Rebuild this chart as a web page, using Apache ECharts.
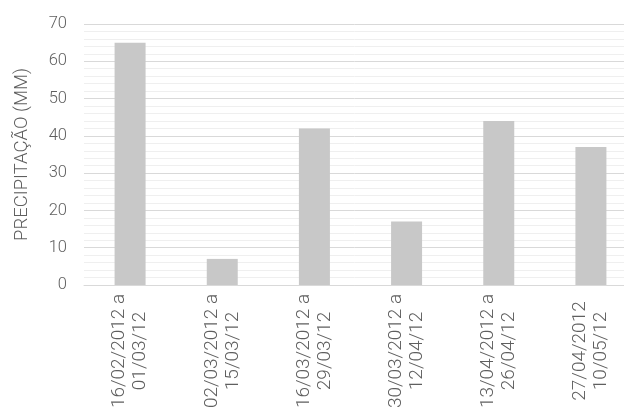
<!DOCTYPE html>
<html>
<head>
<meta charset="utf-8">
<script src="https://cdn.jsdelivr.net/npm/echarts@6/dist/echarts.min.js"></script>
<style>
  html, body { margin: 0; padding: 0; background: #ffffff; }
  #chart { width: 624px; height: 410px; }
</style>
</head>
<body>
<div id="chart"></div>
<script>
// Fortnightly rainfall totals
const periods = [
  '16/02/2012 a\n01/03/12',
  '02/03/2012 a\n15/03/12',
  '16/03/2012 a\n29/03/12',
  '30/03/2012 a\n12/04/12',
  '13/04/2012 a\n26/04/12',
  '27/04/2012\n10/05/12'
];
const rainfall = [65, 7, 42, 17, 44, 37];
const yTicks = [0, 10, 20, 30, 40, 50, 60, 70];
const yTitle = 'PRECIPITAÇÃO (MM)';

const textColor = '#5f5f5f';
const fontFamily = 'Roboto, "Liberation Sans", Arial, sans-serif';
const fontWeight = 300;

const chart = echarts.init(document.getElementById('chart'), null, { renderer: 'canvas' });
chart.setOption({
  animation: false,
  backgroundColor: '#ffffff',
  // plot area runs past the right edge of the canvas
  grid: { left: 84, top: 24, bottom: 125, width: 553, containLabel: false, outerBoundsMode: 'none' },
  xAxis: {
    type: 'category',
    data: periods,
    axisLine: { show: true, lineStyle: { color: '#d9d9d9', width: 1 } },
    axisTick: { show: false },
    axisLabel: {
      interval: 0,
      rotate: 90,
      align: 'center',
      verticalAlign: 'middle',
      margin: 66,
      color: textColor,
      fontFamily: fontFamily,
      fontWeight: fontWeight,
      fontSize: 19,
      lineHeight: 21
    }
  },
  yAxis: {
    type: 'value',
    min: yTicks[0],
    max: yTicks[yTicks.length - 1],
    interval: 10,
    name: yTitle,
    nameLocation: 'middle',
    nameGap: 52,
    nameTextStyle: { color: textColor, fontFamily: fontFamily, fontWeight: fontWeight, fontSize: 18.5 },
    axisLine: { show: false },
    axisTick: { show: false },
    axisLabel: { color: textColor, fontFamily: fontFamily, fontWeight: fontWeight, fontSize: 16.5, margin: 17 },
    splitLine: { show: true, lineStyle: { color: '#d9d9d9', width: 1 } },
    minorTick: { show: false, splitNumber: 5 },
    minorSplitLine: { show: true, lineStyle: { color: '#efefef', width: 1 } }
  },
  series: [{
    type: 'bar',
    data: rainfall,
    barWidth: 31,
    itemStyle: { color: '#c8c8c8' }
  }]
});
</script>
</body>
</html>
